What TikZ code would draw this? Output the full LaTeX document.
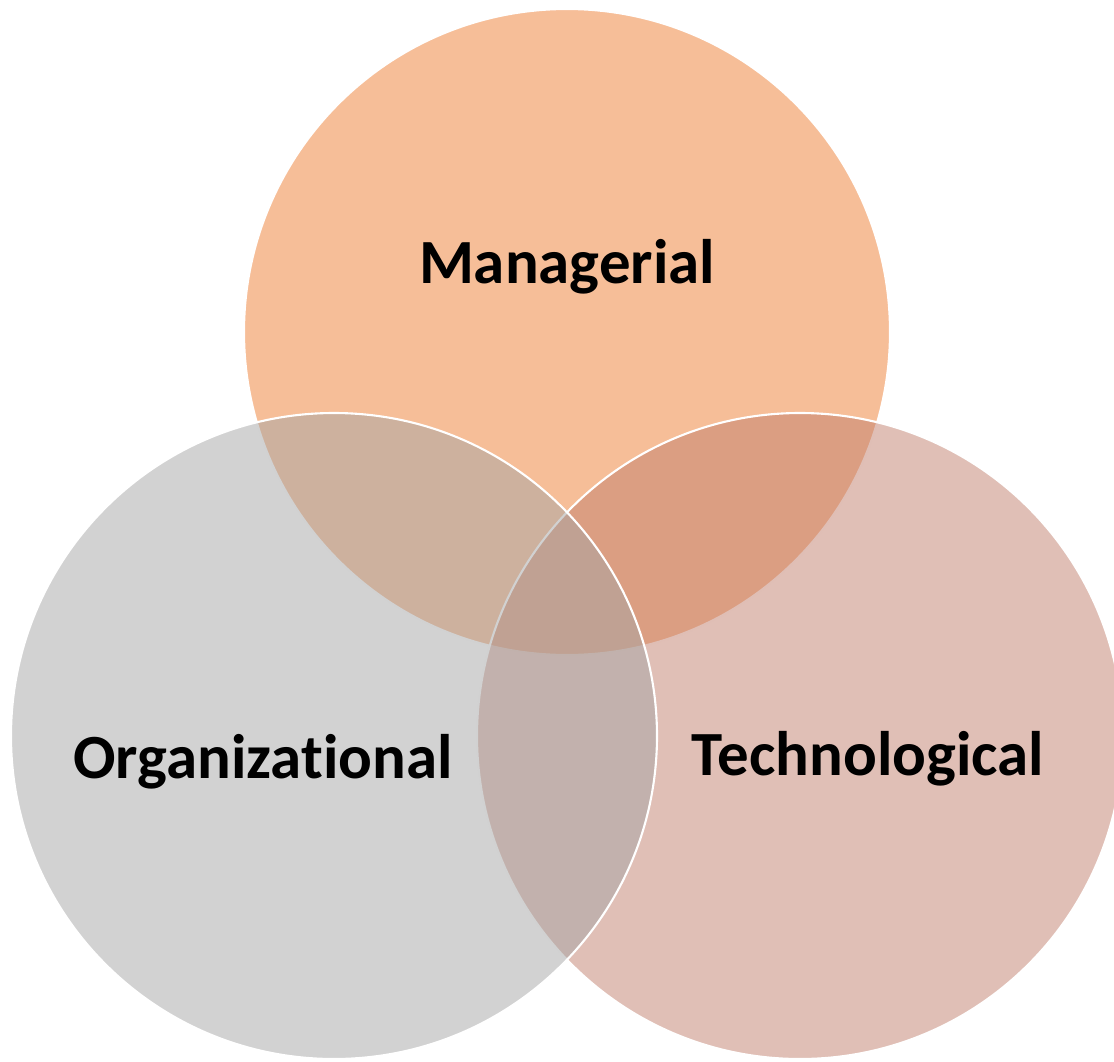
\documentclass[tikz,border=0pt]{standalone}
\usepackage{fontspec}
\setmainfont{Carlito}[Ligatures={NoCommon}]
\definecolor{mgr}{RGB}{237,125,49}
\definecolor{tec}{RGB}{193,127,109}
\definecolor{org}{RGB}{165,165,165}

\begin{document}
\begin{tikzpicture}[set/.style = {draw=white, line width=0.6pt, circle, fill opacity=0.5, minimum size=6.46cm, inner sep=0pt}, lbl/.style = {anchor=base, font=\fontsize{17.9}{21}\selectfont\bfseries}]
        \clip (0,0) rectangle (11.14,10.61);
        \node[set, fill=mgr] (M) at (5.67,7.29) {};
        \node[set, fill=tec] (T) at (8.00,3.25) {};
        \node[set, fill=org] (O) at (3.34,3.25) {};
        \node[lbl] (m) at (5.67,7.78) {Managerial};
        \node[lbl] (o) at (2.63,2.83) {Organizational};
        \node[lbl] (t) at (8.68,2.86) {Technological};
    \end{tikzpicture}
\end{document}
